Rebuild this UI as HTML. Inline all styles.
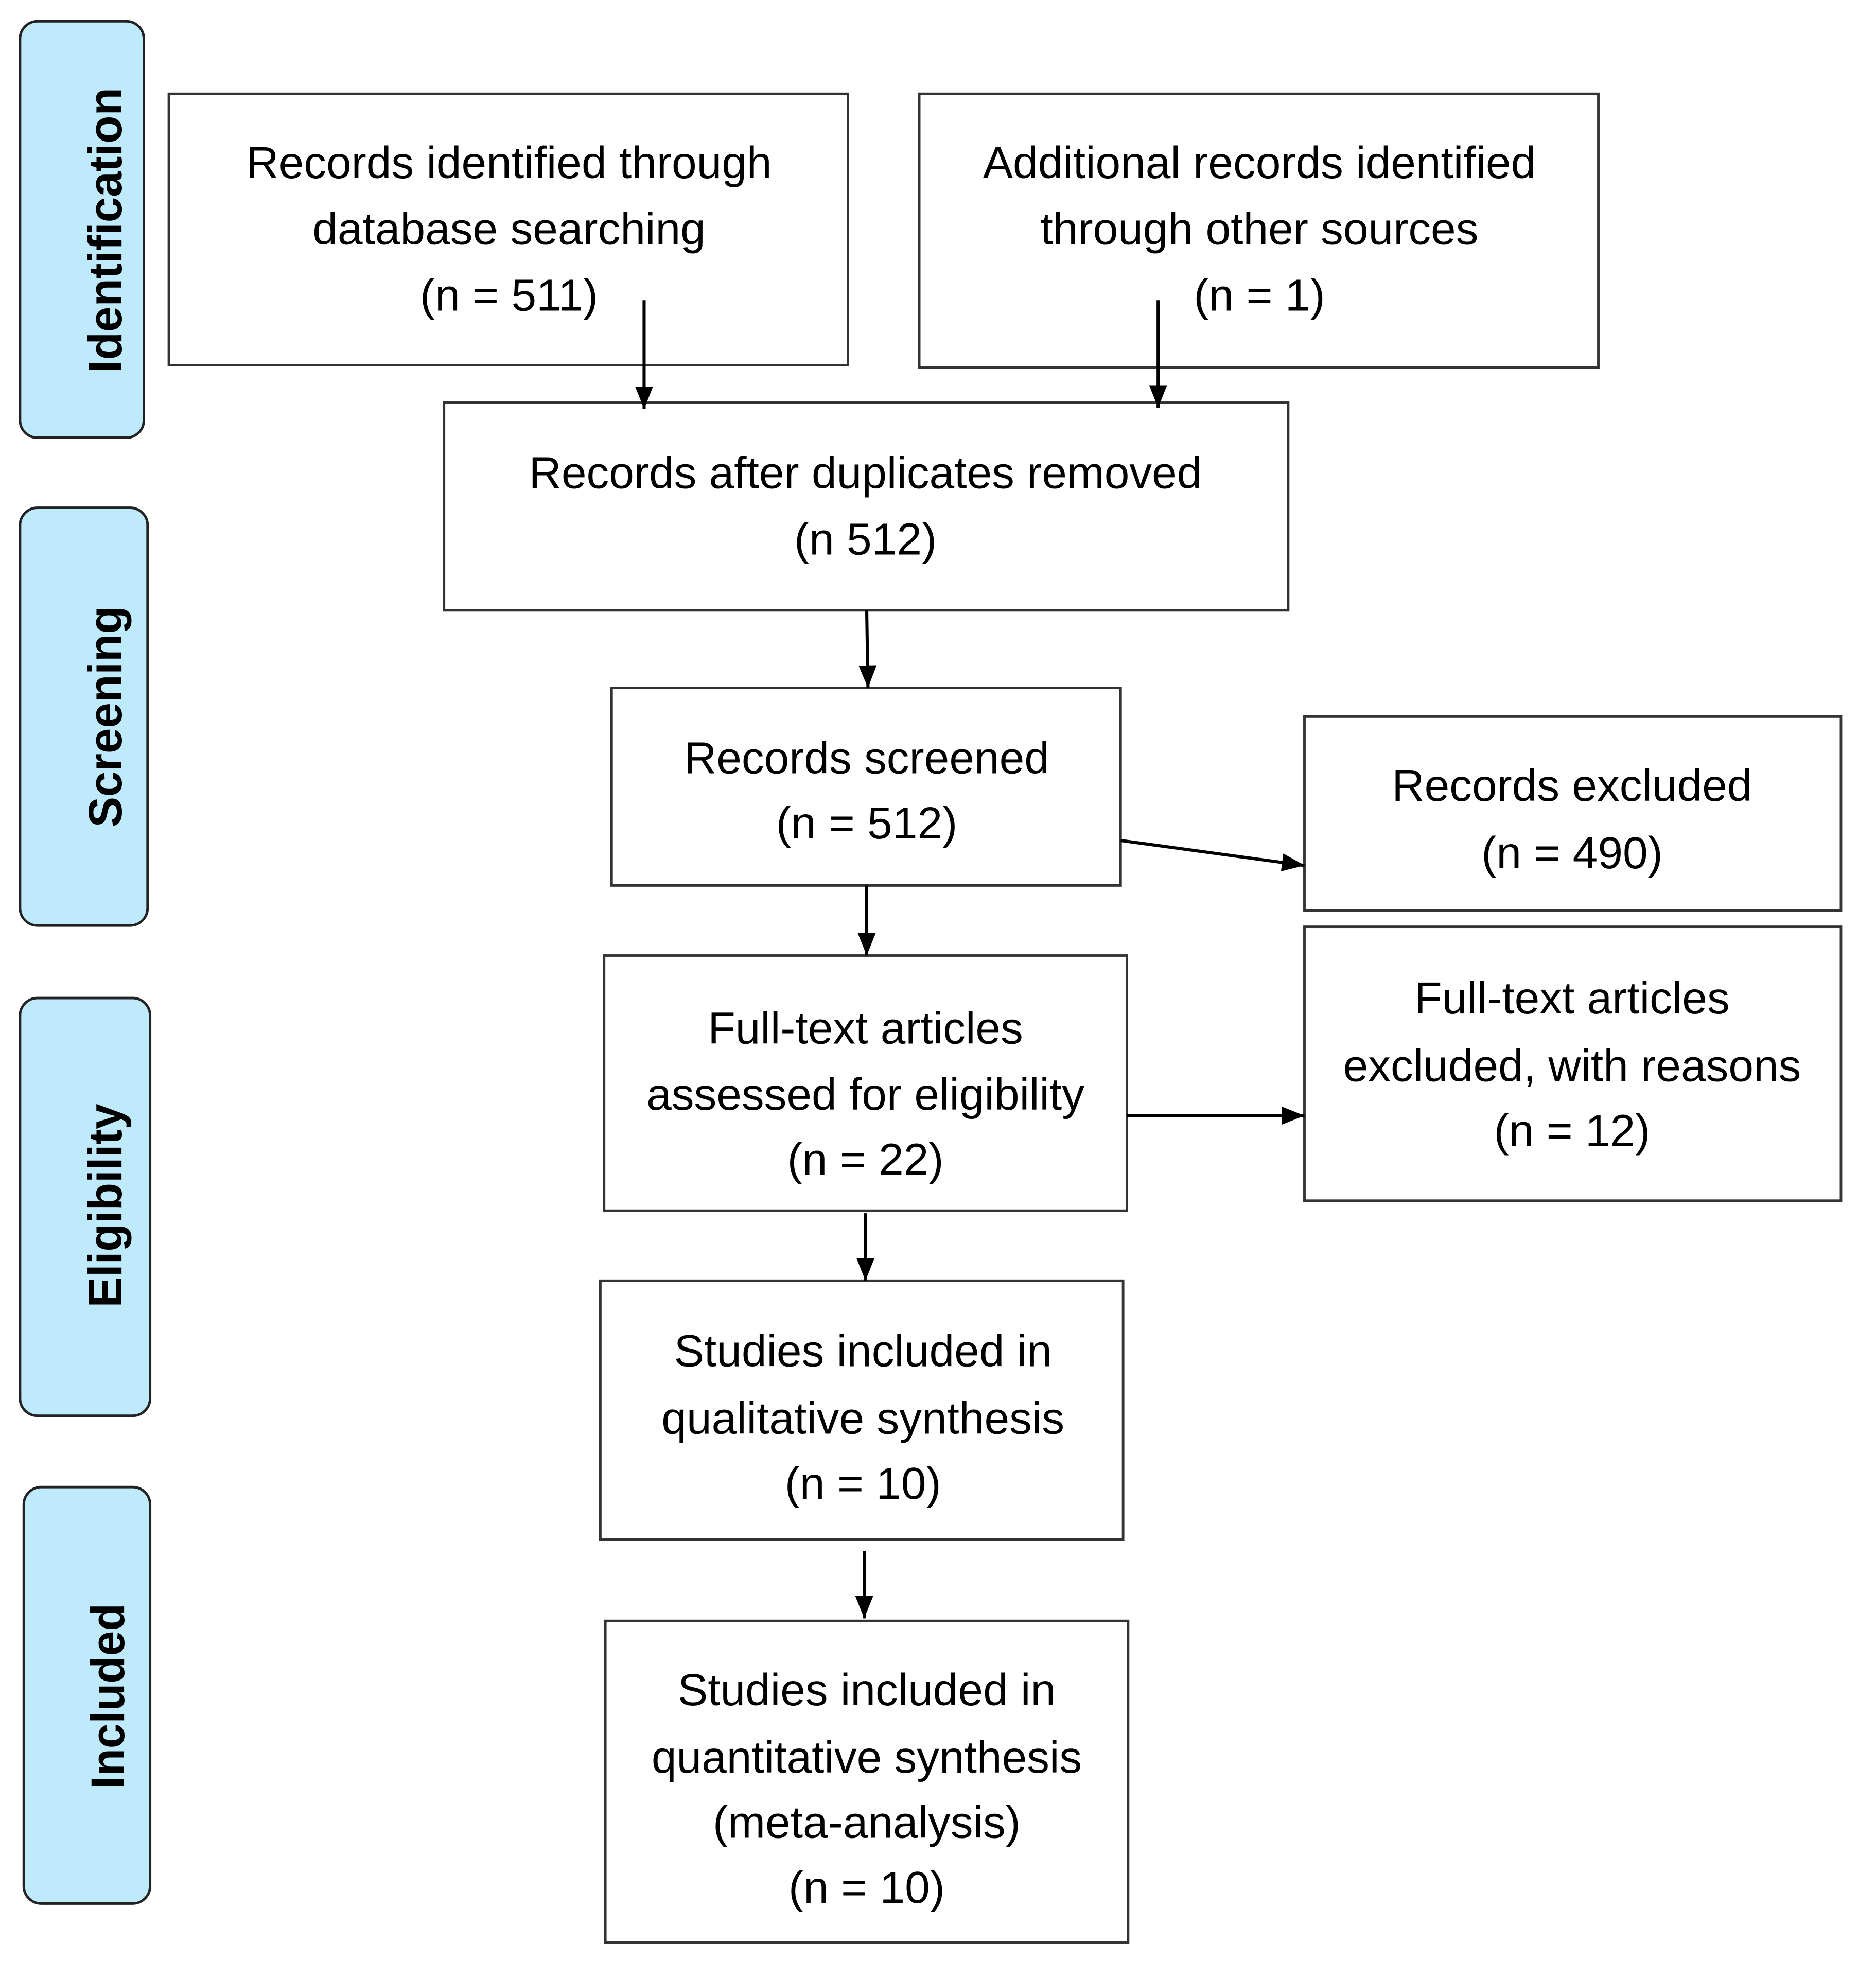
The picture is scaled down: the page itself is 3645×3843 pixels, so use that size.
<!DOCTYPE html>
<html><head><meta charset="utf-8"><style>
html,body{margin:0;padding:0;background:#fff;}
svg{display:block;}
text{font-family:"Liberation Sans",Arial,sans-serif;fill:#000;}
</style></head><body>
<svg width="3645" height="3843" viewBox="0 0 1500 1581.5" xmlns="http://www.w3.org/2000/svg">
<defs>
<marker id="b" viewBox="0 0 10 10" markerWidth="18" markerHeight="18" refX="10" refY="5" orient="auto" markerUnits="userSpaceOnUse"><path d="M0,1 L10,5 L0,9 z" fill="#000"/></marker></defs>
<g fill="#bfeafc" stroke="#222" stroke-width="2">
<rect x="16" y="17" width="99" height="333" rx="14"/>
<rect x="16" y="406" width="102" height="334" rx="14"/>
<rect x="16" y="798" width="104" height="334" rx="14"/>
<rect x="19" y="1189" width="101" height="333" rx="14"/>
</g>
<g font-weight="bold" font-size="38" text-anchor="middle" dominant-baseline="central">
<text transform="translate(84,184) rotate(-90)" textLength="228" lengthAdjust="spacingAndGlyphs">Identification</text>
<text transform="translate(84,573) rotate(-90)" textLength="177" lengthAdjust="spacingAndGlyphs">Screening</text>
<text transform="translate(84,964) rotate(-90)" textLength="163" lengthAdjust="spacingAndGlyphs">Eligibility</text>
<text transform="translate(86,1356) rotate(-90)" textLength="148" lengthAdjust="spacingAndGlyphs">Included</text>
</g>
<g fill="#fff" stroke="#333" stroke-width="2">
<rect x="135" y="75" width="543" height="217"/>
<rect x="735" y="75" width="543" height="219"/>
<rect x="355" y="322" width="675" height="166"/>
<rect x="489" y="550" width="407" height="158"/>
<rect x="1043" y="573" width="429" height="155"/>
<rect x="483" y="764" width="418" height="204"/>
<rect x="1043" y="741" width="429" height="219"/>
<rect x="480" y="1024" width="418" height="207"/>
<rect x="484" y="1296" width="418" height="257"/>
</g>
<g stroke="#000" stroke-width="2.5" fill="none" marker-end="url(#b)">
<line x1="515" y1="240" x2="515" y2="327"/>
<line x1="926" y1="240" x2="926" y2="326"/>
<line x1="693" y1="488" x2="694" y2="550"/>
<line x1="896" y1="672" x2="1043" y2="692"/>
<line x1="693" y1="708" x2="693" y2="764"/>
<line x1="901" y1="892" x2="1043" y2="892"/>
<line x1="692" y1="970" x2="692" y2="1024"/>
<line x1="691" y1="1240" x2="691" y2="1294"/>
</g>
<g font-size="36" text-anchor="middle" dominant-baseline="central">
<text x="407" y="130">Records identified through</text>
<text x="407" y="183">database searching</text>
<text x="407" y="236">(n = 511)</text>
<text x="1007" y="130">Additional records identified</text>
<text x="1007" y="183">through other sources</text>
<text x="1007" y="236">(n = 1)</text>
<text x="692" y="378">Records after duplicates removed</text>
<text x="692" y="431">(n 512)</text>
<text x="693" y="606">Records screened</text>
<text x="693" y="658">(n = 512)</text>
<text x="1257" y="628">Records excluded</text>
<text x="1257" y="682">(n = 490)</text>
<text x="692" y="822">Full-text articles</text>
<text x="692" y="875">assessed for eligibility</text>
<text x="692" y="927">(n = 22)</text>
<text x="1257" y="798">Full-text articles</text>
<text x="1257" y="852">excluded, with reasons</text>
<text x="1257" y="904">(n = 12)</text>
<text x="690" y="1080">Studies included in</text>
<text x="690" y="1134">qualitative synthesis</text>
<text x="690" y="1186">(n = 10)</text>
<text x="693" y="1351">Studies included in</text>
<text x="693" y="1405">quantitative synthesis</text>
<text x="693" y="1457">(meta-analysis)</text>
<text x="693" y="1509">(n = 10)</text>
</g>
</svg>
</body></html>
